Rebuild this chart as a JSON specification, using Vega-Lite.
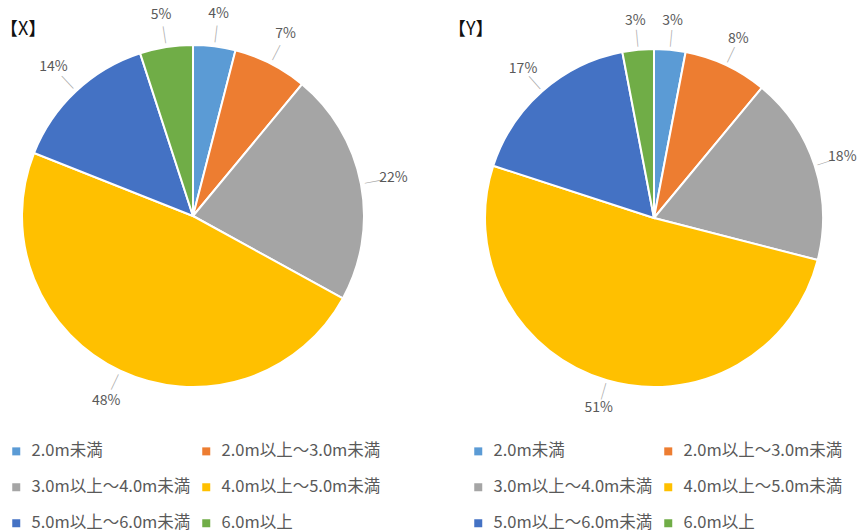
{
  "$schema": "https://vega.github.io/schema/vega-lite/v6.json",
  "padding": 0,
  "background": "white",
  "config": {
    "view": {"stroke": null},
    "font": "Noto Sans CJK JP",
    "concat": {"spacing": 40},
    "legend": {
      "orient": "none",
      "columns": 2,
      "direction": "horizontal",
      "title": null,
      "symbolType": "square",
      "symbolSize": 64,
      "symbolStrokeWidth": 0,
      "symbolOpacity": 1,
      "labelFont": "Noto Sans CJK JP",
      "labelFontSize": 16.5,
      "labelColor": "#595959",
      "labelOffset": 7,
      "labelLimit": 400,
      "columnPadding": 7,
      "rowPadding": 19,
      "padding": 0
    }
  },
  "datasets": {
    "X": [
      {"idx": 1, "cat": "2.0m未満", "share": 0.04},
      {"idx": 2, "cat": "2.0m以上～3.0m未満", "share": 0.07},
      {"idx": 3, "cat": "3.0m以上～4.0m未満", "share": 0.22},
      {"idx": 4, "cat": "4.0m以上～5.0m未満", "share": 0.48},
      {"idx": 5, "cat": "5.0m以上～6.0m未満", "share": 0.14},
      {"idx": 6, "cat": "6.0m以上", "share": 0.05}
    ],
    "Y": [
      {"idx": 1, "cat": "2.0m未満", "share": 0.03},
      {"idx": 2, "cat": "2.0m以上～3.0m未満", "share": 0.08},
      {"idx": 3, "cat": "3.0m以上～4.0m未満", "share": 0.18},
      {"idx": 4, "cat": "4.0m以上～5.0m未満", "share": 0.51},
      {"idx": 5, "cat": "5.0m以上～6.0m未満", "share": 0.17},
      {"idx": 6, "cat": "6.0m以上", "share": 0.03}
    ]
  },
  "hconcat": [
    {
      "width": 386,
      "height": 432,
      "title": {"text": "【X】", "anchor": "start", "frame": "group", "offset": -48, "fontSize": 18, "fontWeight": "normal", "color": "#111111", "baseline": "middle", "font": "Noto Sans CJK JP"},
      "data": {"name": "X"},
      "encoding": {
        "theta": {"field": "share", "type": "quantitative", "stack": true},
        "order": {"field": "idx", "type": "quantitative"},
        "detail": {"field": "cat", "type": "nominal"}
      },
      "layer": [
        {
          "mark": {"type": "arc", "outerRadius": 171, "stroke": "white", "strokeWidth": 2},
          "encoding": {
            "color": {
              "field": "cat", "type": "nominal",
              "scale": {
                "domain": ["2.0m未満", "2.0m以上～3.0m未満", "3.0m以上～4.0m未満", "4.0m以上～5.0m未満", "5.0m以上～6.0m未満", "6.0m以上"],
                "range": ["#5B9BD5", "#ED7D31", "#A5A5A5", "#FFC000", "#4472C4", "#70AD47"]
              },
              "legend": {"legendX": 8, "legendY": 443}
            }
          }
        },
        {
          "mark": {
            "type": "text", "radius": 182, "text": "│", "fontSize": 17, "fill": "#a6a6a6",
            "baseline": "middle", "align": "center",
            "angle": {"expr": "(datum.share_start + datum.share_end) * 180"}
          }
        },
        {
          "mark": {"type": "text", "radius": 204, "fontSize": 14, "fill": "#595959", "font": "Noto Sans CJK JP"},
          "encoding": {
            "text": {"field": "share", "type": "quantitative", "format": ".0%"}
          }
        }
      ]
    },
    {
      "width": 412,
      "height": 436,
      "title": {"text": "【Y】", "anchor": "start", "frame": "group", "offset": -48, "fontSize": 18, "fontWeight": "normal", "color": "#111111", "baseline": "middle", "font": "Noto Sans CJK JP"},
      "data": {"name": "Y"},
      "encoding": {
        "theta": {"field": "share", "type": "quantitative", "stack": true},
        "order": {"field": "idx", "type": "quantitative"},
        "detail": {"field": "cat", "type": "nominal"}
      },
      "layer": [
        {
          "mark": {"type": "arc", "outerRadius": 169, "stroke": "white", "strokeWidth": 2},
          "encoding": {
            "color": {
              "field": "cat", "type": "nominal",
              "scale": {
                "domain": ["2.0m未満", "2.0m以上～3.0m未満", "3.0m以上～4.0m未満", "4.0m以上～5.0m未満", "5.0m以上～6.0m未満", "6.0m以上"],
                "range": ["#5B9BD5", "#ED7D31", "#A5A5A5", "#FFC000", "#4472C4", "#70AD47"]
              },
              "legend": {"legendX": 22, "legendY": 443}
            }
          }
        },
        {
          "mark": {
            "type": "text", "radius": 179, "text": "│", "fontSize": 17, "fill": "#a6a6a6",
            "baseline": "middle", "align": "center",
            "angle": {"expr": "(datum.share_start + datum.share_end) * 180"}
          }
        },
        {
          "mark": {"type": "text", "radius": 198, "fontSize": 14, "fill": "#595959", "font": "Noto Sans CJK JP"},
          "encoding": {
            "text": {"field": "share", "type": "quantitative", "format": ".0%"}
          }
        }
      ]
    }
  ],
  "resolve": {"legend": {"color": "independent"}}
}
